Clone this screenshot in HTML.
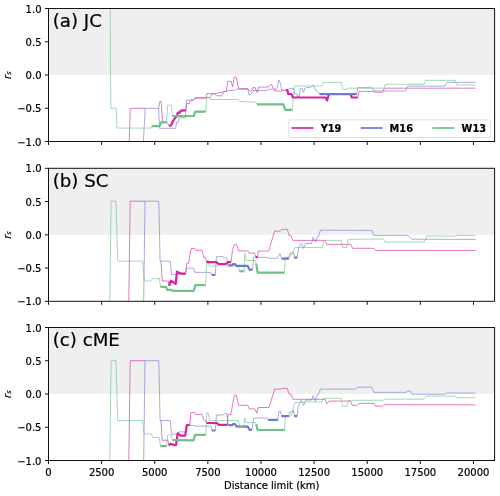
<!DOCTYPE html>
<html><head><meta charset="utf-8"><title>Distance limit</title>
<style>html,body{margin:0;padding:0;background:#fff}svg{display:block}text{stroke:#000;stroke-width:0.2px}</style></head>
<body>
<svg width="500" height="496" viewBox="0 0 500 496" font-family="'DejaVu Sans', 'Liberation Sans', sans-serif" font-size="10" fill="#000">
<rect width="500" height="496" fill="#fff"/>
<g>
<rect x="48.5" y="8.5" width="446.1" height="66.5" fill="#efefef"/>
<clipPath id="c0"><rect x="48.5" y="8.5" width="446.1" height="133.0"/></clipPath>
<g clip-path="url(#c0)">
<polyline points="129.2,141.5 130.3,108.3 145.2,108.3" fill="none" stroke="#d6249a" stroke-width="0.62" stroke-opacity="1" stroke-linejoin="miter"/>
<polyline points="158.4,108.3 158.6,108.3 160,101.2 160.6,101 161.3,102 162.6,122.2 167.1,122.2 169.2,126.3 171.7,124.3 172.7,121.3 174.7,118.7 175.7,117.2 177,116.4 177.7,112.7 179.7,112.7 180.7,110.7 185.8,110.4 186.8,103.4 189.3,103.4 190.8,100.1 193.3,100.1 194.9,98.3 205.7,98.3 206.9,93.7 216,93.7 218.4,92.6 222.7,92.6 223.9,91.6 226.3,91.6 227.7,81.3 231.1,81.3 232.6,86.8 234.2,77.1 236.2,77.1 238.6,88.4 247.9,88.6 249.7,91 251.5,91 253.1,87.4 255.1,87.4 256.7,92.2 257.5,92.2 258.7,87 268.4,87 270.5,84.6 271.5,84.6 275.1,91 281.7,91 282.9,90.2 286,90.2 287.4,90.2 288.2,94 291.3,94 293,97.5 325.5,97.5 327.1,100.4 328.8,94.5 350.7,94.5 351.8,97.5 357.7,97.5 359,91.4 372.6,91.4 375,92.2 382.7,92.2 384.3,88.2 475.6,88.2" fill="none" stroke="#d6249a" stroke-width="0.62" stroke-opacity="1" stroke-linejoin="miter"/>
<polyline points="143.4,141.5 145.2,108.3 158.6,108.3 159.6,128.3 175.7,128.3 176.7,122.3 178.2,122.3 179.2,117.7 185.3,117.7 186.5,100.1 193.9,100.1 195.2,97.6 210.6,97.4 211.8,93.8 214.8,93.8 216.6,95.8 222,95.8 223.6,91.6 226.3,91.6 228.1,90.4 234.8,90.4 236.6,89.2 247.8,89.4 249.1,95.2 250,95 252.1,92.8 253.3,90.4 267.2,90.4 269,89.2 276.9,89.2 278.7,80.1 279.2,80.3 280.5,83.7 281.7,90.2 287.8,90.2 289.6,88.3 293.2,88.3 294.6,93.7 296.8,93.7 297.5,96.8 299.2,96.8 300.3,88.3 301.9,88.3 303.1,92.2 303.6,92.2 305,88 311,87.1 313.1,85 314.3,87.4 316.2,90.4 317.7,92.2 319.5,94.2 356.6,94.2 357.7,87.7 372.1,87.7 373.7,90.9 405.6,90.9 407.5,86.1 445.1,86.1 446.9,82.3 475.6,82.3" fill="none" stroke="#6f78d0" stroke-width="0.62" stroke-opacity="1" stroke-linejoin="miter"/>
<polyline points="110.2,8.5 110.8,108.2 116.3,108.2 117,128.1 150.8,128.1 151.8,126.2 159.6,126.2 161,122.4 166.6,122.4 167.6,105.2 171.2,105.2 172.4,116 193.9,116 195.2,111.7 205.7,111.7 206.9,97.4 208.7,97.4 209.6,99.5 237.8,99.5 239.6,101.3 244,101.5 245.4,101.9 255.1,101.9 256.9,104.3 283.5,104.3 285,109.8 292.3,109.8 294.4,86 321.9,86 323.5,82.4 341.5,82.4 342.8,89.4 347,89.4 347.8,88.2 383.8,88.2 385.4,84.3 424.3,84.3 425.4,79.6 426,80.4 455.2,80.4 456.8,85 475.6,85" fill="none" stroke="#6fc089" stroke-width="0.62" stroke-opacity="1" stroke-linejoin="miter"/>
<polyline points="169.2,126.3 171.7,124.3 172.7,121.3 174.7,118.7 175.7,117.2 177,116.4 177.7,112.7 179.7,112.7 180.7,110.7 185.8,110.4" fill="none" stroke="#d6249a" stroke-width="2.2" stroke-linejoin="round"/>
<polyline points="286,90.2 287.4,90.2 288.2,94 291.3,94 293,97.5 325.5,97.5 327.1,100.4 328.8,94.5" fill="none" stroke="#d6249a" stroke-width="2.2" stroke-linejoin="round"/>
<polyline points="350.7,94.5 351.8,97.5 357.7,97.5" fill="none" stroke="#d6249a" stroke-width="2.2" stroke-linejoin="round"/>
<polyline points="297.5,96.8 299.2,96.8" fill="none" stroke="#6f78d0" stroke-width="2.2" stroke-linejoin="round"/>
<polyline points="319.5,94.2 356.6,94.2" fill="none" stroke="#6f78d0" stroke-width="2.2" stroke-linejoin="round"/>
<polyline points="151.8,126.2 159.6,126.2 161,122.4 166.6,122.4" fill="none" stroke="#6fc089" stroke-width="2.2" stroke-linejoin="round"/>
<polyline points="172.4,116 193.9,116 195.2,111.7 205.7,111.7" fill="none" stroke="#6fc089" stroke-width="2.2" stroke-linejoin="round"/>
<polyline points="256.9,104.3 283.5,104.3 285,109.8 292.3,109.8" fill="none" stroke="#6fc089" stroke-width="2.2" stroke-linejoin="round"/>
</g>
<line x1="45.0" x2="48.5" y1="8.5" y2="8.5" stroke="#111" stroke-width="1"/>
<text x="41.5" y="12.55" text-anchor="end">1.0</text>
<line x1="45.0" x2="48.5" y1="41.75" y2="41.75" stroke="#111" stroke-width="1"/>
<text x="41.5" y="45.80" text-anchor="end">0.5</text>
<line x1="45.0" x2="48.5" y1="75.0" y2="75.0" stroke="#111" stroke-width="1"/>
<text x="41.5" y="79.05" text-anchor="end">0.0</text>
<line x1="45.0" x2="48.5" y1="108.25" y2="108.25" stroke="#111" stroke-width="1"/>
<text x="41.5" y="112.30" text-anchor="end">−0.5</text>
<line x1="45.0" x2="48.5" y1="141.5" y2="141.5" stroke="#111" stroke-width="1"/>
<text x="41.5" y="145.55" text-anchor="end">−1.0</text>
<line x1="48.50" x2="48.50" y1="141.5" y2="145.0" stroke="#111" stroke-width="1"/>
<line x1="101.62" x2="101.62" y1="141.5" y2="145.0" stroke="#111" stroke-width="1"/>
<line x1="154.74" x2="154.74" y1="141.5" y2="145.0" stroke="#111" stroke-width="1"/>
<line x1="207.86" x2="207.86" y1="141.5" y2="145.0" stroke="#111" stroke-width="1"/>
<line x1="260.98" x2="260.98" y1="141.5" y2="145.0" stroke="#111" stroke-width="1"/>
<line x1="314.10" x2="314.10" y1="141.5" y2="145.0" stroke="#111" stroke-width="1"/>
<line x1="367.22" x2="367.22" y1="141.5" y2="145.0" stroke="#111" stroke-width="1"/>
<line x1="420.34" x2="420.34" y1="141.5" y2="145.0" stroke="#111" stroke-width="1"/>
<line x1="473.46" x2="473.46" y1="141.5" y2="145.0" stroke="#111" stroke-width="1"/>
<rect x="48.5" y="8.5" width="446.1" height="133.0" fill="none" stroke="#111" stroke-width="1"/>
<text x="52.7" y="27.2" font-size="18.2" fill="#000">(a) JC</text>
<text transform="translate(10.6 75.2) rotate(-90)" text-anchor="middle" font-style="italic">r<tspan font-size="6.6" dy="0.5">s</tspan></text>
</g>
<g>
<rect x="48.5" y="168.3" width="446.1" height="66.5" fill="#efefef"/>
<clipPath id="c1"><rect x="48.5" y="168.3" width="446.1" height="133.0"/></clipPath>
<g clip-path="url(#c1)">
<polyline points="128.8,301 130.2,201.2 145,201.2" fill="none" stroke="#d6249a" stroke-width="0.62" stroke-opacity="1" stroke-linejoin="miter"/>
<polyline points="160.6,261.3 161,262 162.3,281 168.4,281 169.1,285.8 170.9,280.7 175.7,283.8 177,271.7 181.2,273.7 185.7,273.7 186.8,263.4 188.7,263.4 191,248.6 194.8,248.6 195.8,250.3 201.9,250.3 203.7,257.4 205.1,257.4 206.5,262.1 216,262.1 218.8,264 225.9,264 228,262.1 231.1,262.1 232.5,249.9 234.3,244.7 236.7,244.7 238.6,250.8 247.8,251 249.2,253.1 254.8,253.1 255.9,257.2 257.6,257.2 258.3,251 268.9,251 270.8,243.9 274.6,231.2 280.2,231.2 282.1,229.4 287.3,229.4 289.1,235.5 290.8,235.5 292.9,240.4 325.1,240.4 326.8,244.4 350.8,244.4 352.5,248.3 373.9,248.3 375.6,250.5 475.6,250.5" fill="none" stroke="#d6249a" stroke-width="0.62" stroke-opacity="1" stroke-linejoin="miter"/>
<polyline points="143.7,301 145,201.2 158.8,201.2 160.1,261.1 170.3,261.1 171.6,274.4 185.2,274.4 186.5,268.2 193.5,268.2 194.8,272.4 210.8,272.4 211.8,275 215.3,275 216.4,256.7 223,256.7 224.5,257.8 226.6,257.8 228.3,265.4 232.2,265.4 233.3,264 235,264 236.4,265.9 247.7,265.9 249.6,269.6 252.4,269.8 253.7,257.3 267.5,257.3 268.9,258.3 277,258.3 279.8,253.4 281.6,258.7 288.7,258.7 289.7,253.4 292.9,253.4 293.6,252 294.3,257.6 297.2,257.6 298.6,247.5 300.7,243.9 301.8,243.9 303.5,248.4 305.6,243.6 311.6,243.6 313.1,237.3 315.5,242.1 317.2,236.5 318.3,236.5 320.5,230.2 372,230.4 373.7,235.4 406.8,235.4 409.2,236.6 411.6,239.2 475.6,239.4" fill="none" stroke="#6f78d0" stroke-width="0.62" stroke-opacity="1" stroke-linejoin="miter"/>
<polyline points="109.8,301 111.1,201.2 116,201.2 117.7,261.1 142.6,261.1 144.4,281 150.6,281 152.3,278.6 159.5,278.5 160.5,286.8 166.1,286.8 167.1,289.8 171.1,289.8 172.6,290.8 193.8,290.8 195.3,285.1 205.4,285.1 207.1,260.2 208.2,260.2 209.4,265.9 238.6,265.9 239.3,271.2 244.2,271.3 244.8,253.5 246,260.5 255.5,260.5 256.2,263.7 257.6,272.6 284.5,272.6 285.4,257.3 289.4,257.3 292.9,252 295,247.5 322.3,247.5 323.7,240.4 341.2,240.4 342.6,247.5 346.6,247.5 348,239.7 360,239.2 383.5,239 385.2,242.1 424.3,242.1 426.7,236.1 454.8,236.1 456,235.4 475.6,235.4" fill="none" stroke="#6fc089" stroke-width="0.62" stroke-opacity="1" stroke-linejoin="miter"/>
<polyline points="169.1,285.8 170.9,280.7 175.7,283.8 177,271.7 181.2,273.7 185.7,273.7" fill="none" stroke="#d6249a" stroke-width="2.2" stroke-linejoin="round"/>
<polyline points="206.5,262.1 216,262.1 218.8,264 225.9,264 228,262.1 231.1,262.1" fill="none" stroke="#d6249a" stroke-width="2.2" stroke-linejoin="round"/>
<polyline points="255.9,257.2 257.6,257.2" fill="none" stroke="#d6249a" stroke-width="2.2" stroke-linejoin="round"/>
<polyline points="211.8,275 215.3,275" fill="none" stroke="#6f78d0" stroke-width="2.2" stroke-linejoin="round"/>
<polyline points="228.3,265.4 232.2,265.4 233.3,264 235,264 236.4,265.9 247.7,265.9 249.6,269.6 252.4,269.8" fill="none" stroke="#6f78d0" stroke-width="2.2" stroke-linejoin="round"/>
<polyline points="281.6,258.7 288.7,258.7" fill="none" stroke="#6f78d0" stroke-width="2.2" stroke-linejoin="round"/>
<polyline points="294.3,257.6 297.2,257.6" fill="none" stroke="#6f78d0" stroke-width="2.2" stroke-linejoin="round"/>
<polyline points="160.5,286.8 166.1,286.8 167.1,289.8 171.1,289.8 172.6,290.8 193.8,290.8 195.3,285.1 205.4,285.1" fill="none" stroke="#6fc089" stroke-width="2.2" stroke-linejoin="round"/>
<polyline points="239.3,271.2 244.2,271.3" fill="none" stroke="#6fc089" stroke-width="2.2" stroke-linejoin="round"/>
<polyline points="256.2,263.7 257.6,272.6 284.5,272.6" fill="none" stroke="#6fc089" stroke-width="2.2" stroke-linejoin="round"/>
</g>
<line x1="45.0" x2="48.5" y1="168.3" y2="168.3" stroke="#111" stroke-width="1"/>
<text x="41.5" y="172.35" text-anchor="end">1.0</text>
<line x1="45.0" x2="48.5" y1="201.55" y2="201.55" stroke="#111" stroke-width="1"/>
<text x="41.5" y="205.60" text-anchor="end">0.5</text>
<line x1="45.0" x2="48.5" y1="234.8" y2="234.8" stroke="#111" stroke-width="1"/>
<text x="41.5" y="238.85" text-anchor="end">0.0</text>
<line x1="45.0" x2="48.5" y1="268.05" y2="268.05" stroke="#111" stroke-width="1"/>
<text x="41.5" y="272.10" text-anchor="end">−0.5</text>
<line x1="45.0" x2="48.5" y1="301.3" y2="301.3" stroke="#111" stroke-width="1"/>
<text x="41.5" y="305.35" text-anchor="end">−1.0</text>
<line x1="48.50" x2="48.50" y1="301.3" y2="304.8" stroke="#111" stroke-width="1"/>
<line x1="101.62" x2="101.62" y1="301.3" y2="304.8" stroke="#111" stroke-width="1"/>
<line x1="154.74" x2="154.74" y1="301.3" y2="304.8" stroke="#111" stroke-width="1"/>
<line x1="207.86" x2="207.86" y1="301.3" y2="304.8" stroke="#111" stroke-width="1"/>
<line x1="260.98" x2="260.98" y1="301.3" y2="304.8" stroke="#111" stroke-width="1"/>
<line x1="314.10" x2="314.10" y1="301.3" y2="304.8" stroke="#111" stroke-width="1"/>
<line x1="367.22" x2="367.22" y1="301.3" y2="304.8" stroke="#111" stroke-width="1"/>
<line x1="420.34" x2="420.34" y1="301.3" y2="304.8" stroke="#111" stroke-width="1"/>
<line x1="473.46" x2="473.46" y1="301.3" y2="304.8" stroke="#111" stroke-width="1"/>
<rect x="48.5" y="168.3" width="446.1" height="133.0" fill="none" stroke="#111" stroke-width="1"/>
<text x="52.7" y="187.0" font-size="18.2" fill="#000">(b) SC</text>
<text transform="translate(10.6 235.0) rotate(-90)" text-anchor="middle" font-style="italic">r<tspan font-size="6.6" dy="0.5">s</tspan></text>
</g>
<g>
<rect x="48.5" y="327.5" width="446.1" height="66.5" fill="#efefef"/>
<clipPath id="c2"><rect x="48.5" y="327.5" width="446.1" height="133.0"/></clipPath>
<g clip-path="url(#c2)">
<polyline points="128.8,460.5 130.2,360.7 145,360.7" fill="none" stroke="#d6249a" stroke-width="0.62" stroke-opacity="1" stroke-linejoin="miter"/>
<polyline points="160.6,420.7 161,421 162.1,440.2 167.9,440.2 168.8,445.3 170.6,443.8 174.2,445.1 176,445.1 177.7,433.4 180.7,435.7 185.2,435.7 186.8,425 189.8,425 190.8,412.6 194.8,412.6 195.8,414.4 201.9,414.4 204,420.6 205.4,420.9 206.5,423 217,423 218.8,424.9 227.3,424.9 228,414.6 230.8,414.6 232.5,405.4 234.3,395.2 236.4,395.2 238.6,405.4 247.7,405.2 249.3,408.9 254.8,408.9 256.9,413.1 258.3,407.5 268.9,407.5 270.8,401.8 274.6,389.1 280.2,389.1 282.1,388.4 287.3,388.4 289.1,394.1 290.8,394.1 292.9,399.3 325.1,399.3 326.8,403.9 328.9,401.1 350.5,401.1 352.2,405.3 357.2,405.3 359,403.4 373.9,403.4 375.6,406.2 382.3,406.2 384,404.7 475.6,404.9" fill="none" stroke="#d6249a" stroke-width="0.62" stroke-opacity="1" stroke-linejoin="miter"/>
<polyline points="143.7,460.5 145,360.7 158.8,360.7 160.1,420.5 170.3,420.5 171.6,434.2 176.7,434.2 178.5,432 185.4,431.8 186.5,425.5 193.8,425.4 194.8,426.1 211,426.1 211.8,430.5 215.3,430.5 216.4,415 223,415 224.5,413.6 226.6,413.6 228.3,425.2 232.2,425.2 233.3,424 235,424 236.4,426.3 247.7,426.6 249.6,429.8 252,429.8 253.7,418 266.8,418 268.2,419.9 277.8,419.9 278.8,411.4 280.6,411.4 281.6,416.2 288.7,416.2 289.7,412 292.9,412 293.6,410.3 294.3,416.2 297.2,416.2 298.1,407.5 300.7,400.8 301.8,400.8 303.5,405.3 305.6,400.1 311.6,400.1 313.1,395.5 315.5,401.1 317.2,394.8 318.3,394.8 320.5,389.1 355.7,389.1 357.6,387.2 372,387.2 373.7,392.3 406.3,392.3 407.5,391.1 410.4,391.1 412.1,394.2 445.2,394.2 446.9,393 475.6,393" fill="none" stroke="#6f78d0" stroke-width="0.62" stroke-opacity="1" stroke-linejoin="miter"/>
<polyline points="109.8,460.5 111.1,360.7 116,360.7 117.7,420.6 142.6,420.6 143.9,433.8 151,433.8 152.8,437.5 159.2,437.4 160.5,446.1 166.6,446.1 167.6,435.2 171.1,435.2 172.6,440.2 193.6,440.4 194.9,434.8 205.7,434.8 206.8,412.7 208.2,412.7 209.6,420.6 238.6,420.6 239.3,426.6 244.2,426.6 244.8,418 246,422.6 255.5,422.6 256.2,424 257.6,430 284.5,430 285.4,416.2 291,416.2 294.8,402.5 310,402 321.9,402.1 323.7,398.3 341.2,398.3 342.6,406.3 346.6,406.3 348.3,400.4 384,400.2 385.2,399.2 423.6,399.2 426.5,396.1 454.8,396.1 456.7,397.8 475.6,397.8" fill="none" stroke="#6fc089" stroke-width="0.62" stroke-opacity="1" stroke-linejoin="miter"/>
<polyline points="168.8,445.3 170.6,443.8 174.2,445.1 176,445.1 177.7,433.4 180.7,435.7 185.2,435.7 186.8,425 189.8,425" fill="none" stroke="#d6249a" stroke-width="2.2" stroke-linejoin="round"/>
<polyline points="206.5,423 217,423 218.8,424.9 227.3,424.9" fill="none" stroke="#d6249a" stroke-width="2.2" stroke-linejoin="round"/>
<polyline points="211.8,430.5 215.3,430.5" fill="none" stroke="#6f78d0" stroke-width="2.2" stroke-linejoin="round"/>
<polyline points="228.3,425.2 232.2,425.2 233.3,424 235,424 236.4,426.3 247.7,426.6 249.6,429.8 252,429.8" fill="none" stroke="#6f78d0" stroke-width="2.2" stroke-linejoin="round"/>
<polyline points="268.2,419.9 277.8,419.9" fill="none" stroke="#6f78d0" stroke-width="2.2" stroke-linejoin="round"/>
<polyline points="281.6,416.2 288.7,416.2" fill="none" stroke="#6f78d0" stroke-width="2.2" stroke-linejoin="round"/>
<polyline points="294.3,416.2 297.2,416.2" fill="none" stroke="#6f78d0" stroke-width="2.2" stroke-linejoin="round"/>
<polyline points="160.5,446.1 166.6,446.1" fill="none" stroke="#6fc089" stroke-width="2.2" stroke-linejoin="round"/>
<polyline points="172.6,440.2 193.6,440.4 194.9,434.8 205.7,434.8" fill="none" stroke="#6fc089" stroke-width="2.2" stroke-linejoin="round"/>
<polyline points="239.3,426.6 244.2,426.6" fill="none" stroke="#6fc089" stroke-width="2.2" stroke-linejoin="round"/>
<polyline points="256.2,424 257.6,430 284.5,430" fill="none" stroke="#6fc089" stroke-width="2.2" stroke-linejoin="round"/>
</g>
<line x1="45.0" x2="48.5" y1="327.5" y2="327.5" stroke="#111" stroke-width="1"/>
<text x="41.5" y="331.55" text-anchor="end">1.0</text>
<line x1="45.0" x2="48.5" y1="360.75" y2="360.75" stroke="#111" stroke-width="1"/>
<text x="41.5" y="364.80" text-anchor="end">0.5</text>
<line x1="45.0" x2="48.5" y1="394.0" y2="394.0" stroke="#111" stroke-width="1"/>
<text x="41.5" y="398.05" text-anchor="end">0.0</text>
<line x1="45.0" x2="48.5" y1="427.25" y2="427.25" stroke="#111" stroke-width="1"/>
<text x="41.5" y="431.30" text-anchor="end">−0.5</text>
<line x1="45.0" x2="48.5" y1="460.5" y2="460.5" stroke="#111" stroke-width="1"/>
<text x="41.5" y="464.55" text-anchor="end">−1.0</text>
<line x1="48.50" x2="48.50" y1="460.5" y2="464.0" stroke="#111" stroke-width="1"/>
<line x1="101.62" x2="101.62" y1="460.5" y2="464.0" stroke="#111" stroke-width="1"/>
<line x1="154.74" x2="154.74" y1="460.5" y2="464.0" stroke="#111" stroke-width="1"/>
<line x1="207.86" x2="207.86" y1="460.5" y2="464.0" stroke="#111" stroke-width="1"/>
<line x1="260.98" x2="260.98" y1="460.5" y2="464.0" stroke="#111" stroke-width="1"/>
<line x1="314.10" x2="314.10" y1="460.5" y2="464.0" stroke="#111" stroke-width="1"/>
<line x1="367.22" x2="367.22" y1="460.5" y2="464.0" stroke="#111" stroke-width="1"/>
<line x1="420.34" x2="420.34" y1="460.5" y2="464.0" stroke="#111" stroke-width="1"/>
<line x1="473.46" x2="473.46" y1="460.5" y2="464.0" stroke="#111" stroke-width="1"/>
<rect x="48.5" y="327.5" width="446.1" height="133.0" fill="none" stroke="#111" stroke-width="1"/>
<text x="52.7" y="346.2" font-size="18.2" fill="#000">(c) cME</text>
<text transform="translate(10.6 394.2) rotate(-90)" text-anchor="middle" font-style="italic">r<tspan font-size="6.6" dy="0.5">s</tspan></text>
</g>
<text x="48.50" y="475.7" text-anchor="middle">0</text>
<text x="101.62" y="475.7" text-anchor="middle">2500</text>
<text x="154.74" y="475.7" text-anchor="middle">5000</text>
<text x="207.86" y="475.7" text-anchor="middle">7500</text>
<text x="260.98" y="475.7" text-anchor="middle">10000</text>
<text x="314.10" y="475.7" text-anchor="middle">12500</text>
<text x="367.22" y="475.7" text-anchor="middle">15000</text>
<text x="420.34" y="475.7" text-anchor="middle">17500</text>
<text x="473.46" y="475.7" text-anchor="middle">20000</text>
<text x="271.8" y="488.8" text-anchor="middle">Distance limit (km)</text>
<rect x="288.4" y="119.9" width="201.9" height="17.6" rx="2" ry="2" fill="#fff" fill-opacity="0.8" stroke="#ccc" stroke-opacity="0.8" stroke-width="0.8"/>
<line x1="291.4" x2="313.5" y1="128" y2="128" stroke="#d6249a" stroke-width="1.7"/>
<text x="320.7" y="131.5" font-weight="bold" font-size="9.8" fill="#000">Y19</text>
<line x1="360.8" x2="382.6" y1="128" y2="128" stroke="#6f78d0" stroke-width="1.7"/>
<text x="389.6" y="131.5" font-weight="bold" font-size="9.8" fill="#000">M16</text>
<line x1="432.4" x2="454.3" y1="128" y2="128" stroke="#6fc089" stroke-width="1.7"/>
<text x="461.6" y="131.5" font-weight="bold" font-size="9.8" fill="#000">W13</text>
</svg>
</body></html>
